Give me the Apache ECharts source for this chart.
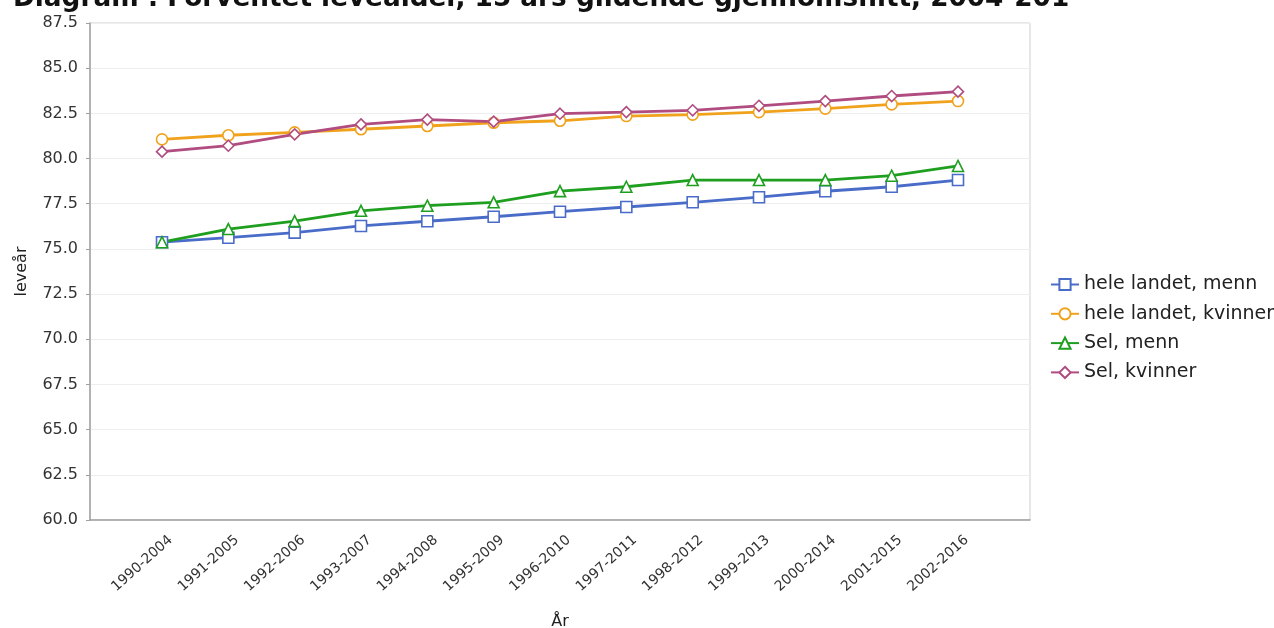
<!DOCTYPE html>
<html>
<head>
<meta charset="utf-8">
<script src="https://cdn.jsdelivr.net/npm/echarts@6/dist/echarts.min.js"></script>
<style>
html,body{margin:0;padding:0;background:#fff;}
#chart{width:1274px;height:628px;}
</style>
</head>
<body>
<div id="chart"></div>
<script>
var titleText = 'Diagram : Forventet levealder, 15 års glidende gjennomsnitt, 2004-201';
var categories = ['1990-2004','1991-2005','1992-2006','1993-2007','1994-2008','1995-2009','1996-2010','1997-2011','1998-2012','1999-2013','2000-2014','2001-2015','2002-2016'];
var seriesNames = ['hele landet, menn','hele landet, kvinner','Sel, menn','Sel, kvinner'];
var heleLandetMenn = [75.37,75.62,75.90,76.27,76.53,76.78,77.06,77.32,77.58,77.86,78.19,78.44,78.81];
var heleLandetKvinner = [81.06,81.29,81.45,81.62,81.80,81.98,82.09,82.35,82.43,82.57,82.76,83.00,83.18];
var selMenn = [75.37,76.10,76.54,77.11,77.39,77.58,78.20,78.44,78.81,78.81,78.81,79.05,79.59];
var selKvinner = [80.38,80.71,81.34,81.89,82.15,82.04,82.48,82.57,82.67,82.92,83.18,83.46,83.70];

var colors = ['#4a6cc9','#f0a21c','#1f9f1f','#b04c80'];
var symbols = ['rect','circle','triangle','diamond'];
var allValues = [heleLandetMenn, heleLandetKvinner, selMenn, selKvinner];

var pad = 1.0855;
var labelShift = 0.13;
var idx = categories.map(function(c,i){return i;});

var chart = echarts.init(document.getElementById('chart'));
var series = allValues.map(function(vals, s){
  return {
    name: seriesNames[s],
    type: 'line',
    xAxisIndex: 0,
    yAxisIndex: 0,
    data: vals.map(function(v,i){return [i, v];}),
    symbol: symbols[s],
    symbolSize: 11,
    showAllSymbol: true,
    lineStyle: {color: colors[s], width: 2.8},
    itemStyle: {color: '#fff', borderColor: colors[s], borderWidth: 1.6},
    emphasis: {disabled: true},
    animation: false
  };
});

chart.setOption({
  animation: false,
  title: {
    text: titleText,
    left: 8,
    top: -19,
    textStyle: {fontFamily: 'DejaVu Sans', fontWeight: 'bold', fontSize: 26.3, color: '#111'}
  },
  grid: {left: 90, width: 940, top: 23, height: 497, show: true, borderColor: '#cfcfcf', borderWidth: 1,
    containLabel: false, outerBoundsMode: 'none'},
  legend: {
    orient: 'vertical',
    left: 1045,
    top: 270,
    itemWidth: 28,
    itemHeight: 14,
    itemGap: 10.3,
    data: seriesNames,
    textStyle: {fontFamily: 'DejaVu Sans', fontSize: 19, color: '#222'},
    selectedMode: false
  },
  xAxis: [{
    type: 'value',
    min: -pad,
    max: categories.length - 1 + pad,
    position: 'bottom',
    axisLine: {show: true, onZero: false, lineStyle: {color: '#a0a0a0', width: 1.5}},
    axisTick: {show: false},
    axisLabel: {show: false},
    splitLine: {show: false}
  }, {
    type: 'value',
    gridIndex: 0,
    min: -pad - labelShift,
    max: categories.length - 1 + pad - labelShift,
    position: 'bottom',
    offset: 0,
    name: 'År',
    nameLocation: 'middle',
    nameGap: 94,
    nameTextStyle: {fontFamily: 'DejaVu Sans', fontSize: 16, color: '#222'},
    axisLine: {show: false, onZero: false},
    axisTick: {show: false},
    splitLine: {show: false},
    axisLabel: {
      customValues: idx,
      rotate: 42,
      margin: 18,
      fontFamily: 'DejaVu Sans',
      fontSize: 14,
      color: '#333',
      formatter: function(v){ return categories[Math.round(v)] || ''; }
    }
  }],
  yAxis: {
    type: 'value',
    min: 60,
    max: 87.5,
    interval: 2.5,
    name: 'leveår',
    nameLocation: 'middle',
    nameGap: 60,
    nameTextStyle: {fontFamily: 'DejaVu Sans', fontSize: 16, color: '#222'},
    axisLine: {show: true, onZero: false, lineStyle: {color: '#a0a0a0', width: 1.5}},
    axisTick: {show: true, length: 4, lineStyle: {color: '#a0a0a0'}},
    axisLabel: {fontFamily: 'DejaVu Sans', fontSize: 16, color: '#333', margin: 12,
      formatter: function(v){ return v.toFixed(1); }},
    splitLine: {show: true, lineStyle: {color: '#eeeeee', width: 1}}
  },
  series: series
});
</script>
</body>
</html>
